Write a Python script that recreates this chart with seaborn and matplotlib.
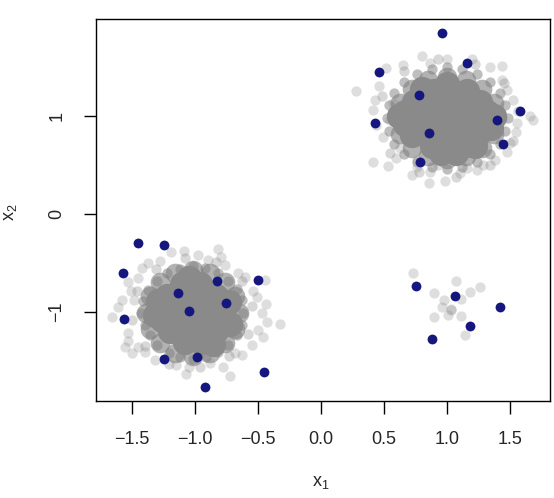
import matplotlib
matplotlib.use("Agg")
import matplotlib.pyplot as plt
import seaborn as sns

# ---- veri: gri bulutlar (okunabilen dış noktalar) ----
halo_ll_x = [-0.815, -1.085, -1.190, -1.278, -0.794, -0.762, -1.423, -1.529, -1.508, -1.608,
             -1.661, -1.481, -1.529, -1.529, -1.450, -1.497, -0.603, -0.444, -0.439, -0.325,
             -0.431, -0.497, -0.458, -0.550, -0.630, -0.722, -0.775, -0.881, -1.069, -1.148,
             -1.048, -1.317, -1.397, -0.537, -0.505, -1.450, -0.974, -0.894, -1.370, -0.683,
             -0.656, -1.582, -1.556, -0.471]
halo_ll_y = [-0.361, -0.375, -0.392, -0.477, -0.443, -0.521, -0.556, -0.695, -0.784, -0.954,
             -1.057, -0.879, -1.220, -1.295, -1.357, -1.418, -0.641, -0.675, -0.920, -1.128,
             -1.101, -1.186, -1.261, -1.340, -1.442, -1.656, -1.561, -1.527, -1.636, -1.544,
             -1.561, -1.493, -1.408, -0.784, -0.852, -0.658, -0.419, -0.470, -0.504, -1.425,
             -0.607, -0.879, -1.357, -1.016]

halo_ur_x = [0.278, 0.799, 0.865, 0.997, 1.196, 1.434, 0.516, 0.653, 0.463, 0.429,
             0.415, 0.494, 0.415, 0.529, 0.593, 0.720, 0.860, 0.984, 0.865, 1.103,
             1.236, 1.288, 1.381, 1.474, 1.548, 1.680, 1.660, 1.526, 1.474, 1.434,
             1.553, 1.341, 0.574, 0.548, 0.627, 0.759, 1.156, 0.759, 0.931, 1.500]
halo_ur_y = [1.261, 1.616, 1.547, 1.582, 1.582, 1.513, 1.490, 1.523, 1.309, 1.166,
             1.063, 0.790, 0.535, 0.491, 0.570, 0.399, 0.320, 0.337, 0.433, 0.416,
             0.450, 0.501, 0.552, 0.637, 0.842, 0.961, 1.000, 1.166, 1.268, 1.371,
             0.927, 1.506, 1.132, 0.961, 0.672, 0.552, 0.467, 0.484, 0.501, 0.723]

# küçük grup
small_x = [0.733, 1.071, 0.899, 1.183, 1.259, 0.976, 1.109, 0.958, 1.030, 1.035, 1.011, 0.894, 1.109, 1.140]
small_y = [-0.607, -0.689, -0.804, -0.797, -0.743, -0.879, -0.873, -0.947, -0.970, -0.985, -1.033, -1.050, -1.043, -1.237]

# bulutların dış kuşağı
outer_x = [-0.55, -0.63, -0.83, -1.08, -1.31, -1.46, -1.50, -1.40, -1.21, -0.96, -0.73, -0.58,
           1.56, 1.45, 1.22, 0.93, 0.66, 0.48, 0.44, 0.55, 0.78, 1.07, 1.34, 1.52]
outer_y = [-0.94, -0.68, -0.49, -0.45, -0.56, -0.79, -1.08, -1.35, -1.53, -1.56, -1.45, -1.23,
           1.05, 1.34, 1.53, 1.58, 1.46, 1.21, 0.91, 0.62, 0.43, 0.38, 0.50, 0.75]

# çekirdek kenarı (yarı saydam)
ring_x = [-0.62, -0.63, -0.67, -0.74, -0.82, -0.92, -1.02, -1.12, -1.22, -1.30, -1.37, -1.41,
          -1.43, -1.40, -1.36, -1.30, -1.21, -1.12, -1.02, -0.91, -0.82, -0.74, -0.67, -0.63,
          1.48, 1.46, 1.42, 1.34, 1.24, 1.12, 1.00, 0.88, 0.76, 0.66, 0.58, 0.54,
          0.52, 0.54, 0.58, 0.66, 0.76, 0.88, 1.00, 1.12, 1.24, 1.34, 1.42, 1.46]
ring_y = [-1.01, -0.88, -0.77, -0.68, -0.60, -0.55, -0.53, -0.56, -0.60, -0.68, -0.78, -0.89,
          -1.01, -1.13, -1.24, -1.34, -1.42, -1.46, -1.48, -1.46, -1.41, -1.34, -1.24, -1.13,
          0.98, 1.11, 1.24, 1.35, 1.43, 1.48, 1.50, 1.48, 1.43, 1.35, 1.24, 1.11,
          0.98, 0.85, 0.72, 0.61, 0.53, 0.48, 0.46, 0.48, 0.53, 0.61, 0.72, 0.85]

# çekirdeği saran orta gri kuşak
band_x = [-0.65, -0.68, -0.76, -0.88, -1.02, -1.16, -1.28, -1.36,
          -1.39, -1.36, -1.28, -1.16, -1.02, -0.88, -0.76, -0.68,
          1.40, 1.37, 1.28, 1.15, 1.00, 0.85, 0.72, 0.63,
          0.60, 0.63, 0.72, 0.85, 1.00, 1.15, 1.28, 1.37]
band_y = [-1.01, -0.84, -0.70, -0.60, -0.57, -0.60, -0.70, -0.84,
          -1.01, -1.18, -1.32, -1.42, -1.45, -1.42, -1.32, -1.18,
          0.98, 1.14, 1.28, 1.37, 1.40, 1.37, 1.28, 1.14,
          0.98, 0.82, 0.68, 0.59, 0.56, 0.59, 0.68, 0.82]

# yoğun çekirdek (doygun gri bölge)
core_ll_x = [-1.10, -0.96,
             -1.22, -1.09, -0.96, -0.83,
             -1.27, -1.14, -1.01, -0.88, -0.77,
             -1.26, -1.13, -1.00, -0.87, -0.77,
             -1.20, -1.07, -0.94, -0.83,
             -1.08, -0.95,
             -1.32, -1.29, -0.73, -0.72, -0.86, -1.05]
core_ll_y = [-0.72, -0.72,
             -0.84, -0.84, -0.84, -0.84,
             -0.96, -0.96, -0.96, -0.96, -0.96,
             -1.08, -1.08, -1.08, -1.08, -1.08,
             -1.20, -1.20, -1.20, -1.20,
             -1.31, -1.31,
             -1.03, -0.89, -0.90, -1.12, -1.33, -0.65]

core_ur_x = [0.90, 1.04, 1.16,
             0.74, 0.87, 1.00, 1.13, 1.26,
             0.67, 0.80, 0.93, 1.06, 1.19, 1.32,
             0.67, 0.80, 0.93, 1.06, 1.19, 1.32,
             0.72, 0.85, 0.98, 1.11, 1.24,
             0.88, 1.01, 1.13,
             0.95, 1.07,
             0.62, 1.37, 1.35, 1.00, 0.80, 1.22]
core_ur_y = [1.26, 1.26, 1.26,
             1.15, 1.15, 1.15, 1.15, 1.15,
             1.04, 1.04, 1.04, 1.04, 1.04, 1.04,
             0.92, 0.92, 0.92, 0.92, 0.92, 0.92,
             0.81, 0.81, 0.81, 0.81, 0.81,
             0.70, 0.70, 0.70,
             0.62, 0.62,
             1.00, 1.00, 0.88, 1.33, 1.28, 0.70]

# lacivert noktalar
navy_x = [-1.450, -1.244, -1.569, -1.133, -0.828, -0.502, -0.756, -1.048, -1.563, -1.244,
          -0.987, -0.452, -0.923,
          0.958, 1.156, 0.463, 0.775, 0.429, 0.860, 1.399, 1.582, 1.444, 0.783,
          0.751, 1.066, 1.421, 1.180, 0.881]
navy_y = [-0.300, -0.317, -0.600, -0.805, -0.682, -0.675, -0.907, -0.992, -1.070, -1.479,
          -1.459, -1.619, -1.769,
          1.848, 1.541, 1.455, 1.217, 0.927, 0.831, 0.961, 1.053, 0.719, 0.529,
          -0.736, -0.835, -0.954, -1.145, -1.275]

x_ticks = [-1.5, -1.0, -0.5, 0.0, 0.5, 1.0, 1.5]
y_ticks = [-1, 0, 1]

sns.set_style("white")
plt.rcParams['font.family'] = ['Liberation Sans', 'DejaVu Sans']
plt.rcParams['mathtext.fontset'] = 'custom'
plt.rcParams['mathtext.rm'] = 'Liberation Sans'
plt.rcParams['mathtext.it'] = 'Liberation Sans'

fig = plt.figure(figsize=(5.54, 4.98), dpi=100)
ax = fig.add_axes([96 / 554, 1 - 400.7 / 498, 454 / 554, 381.7 / 498])

gri = "#7f7f7f"
sns.scatterplot(x=halo_ll_x + halo_ur_x + small_x, y=halo_ll_y + halo_ur_y + small_y,
                color=gri, alpha=0.25, s=55, linewidth=0, ax=ax)
sns.scatterplot(x=outer_x, y=outer_y, color=gri, alpha=0.3, s=55, linewidth=0, ax=ax)
sns.scatterplot(x=ring_x, y=ring_y, color=gri, alpha=0.5, s=55, linewidth=0, ax=ax)
sns.scatterplot(x=band_x, y=band_y, color=gri, alpha=0.6, s=200, linewidth=0, ax=ax)
sns.scatterplot(x=core_ll_x + core_ur_x, y=core_ll_y + core_ur_y,
                color="#8a8a8a", s=330, linewidth=0, ax=ax)
sns.scatterplot(x=navy_x, y=navy_y, color="#16167f", s=50, linewidth=0, ax=ax)

ax.set_xlim(-1.786, 1.817)
ax.set_ylim(-1.909, 1.994)
ax.set_xticks(x_ticks)
ax.set_xticklabels([f"{v:.1f}".replace("-", "\u2212") for v in x_ticks])
ax.set_yticks(y_ticks)
ax.set_yticklabels([f"{v}".replace("-", "\u2212") for v in y_ticks])
ax.tick_params(direction='out', length=9, width=1, pad=13, labelsize=13,
               color='black', bottom=True, left=True)
for lab in ax.get_yticklabels():
    lab.set_rotation(90)
    lab.set_va('center')

for sp in ax.spines.values():
    sp.set_color('black')
    sp.set_linewidth(1.0)

ax.set_xlabel(r'$\mathregular{x_1}$', fontsize=13)
ax.set_ylabel(r'$\mathregular{x_2}$', fontsize=13)
ax.xaxis.set_label_coords(0.4956, -0.213)
ax.xaxis.label.set_va('center')
ax.yaxis.set_label_coords(-0.189, 0.494)
ax.yaxis.label.set_va('center')

fig.savefig("out.png", dpi=100)
